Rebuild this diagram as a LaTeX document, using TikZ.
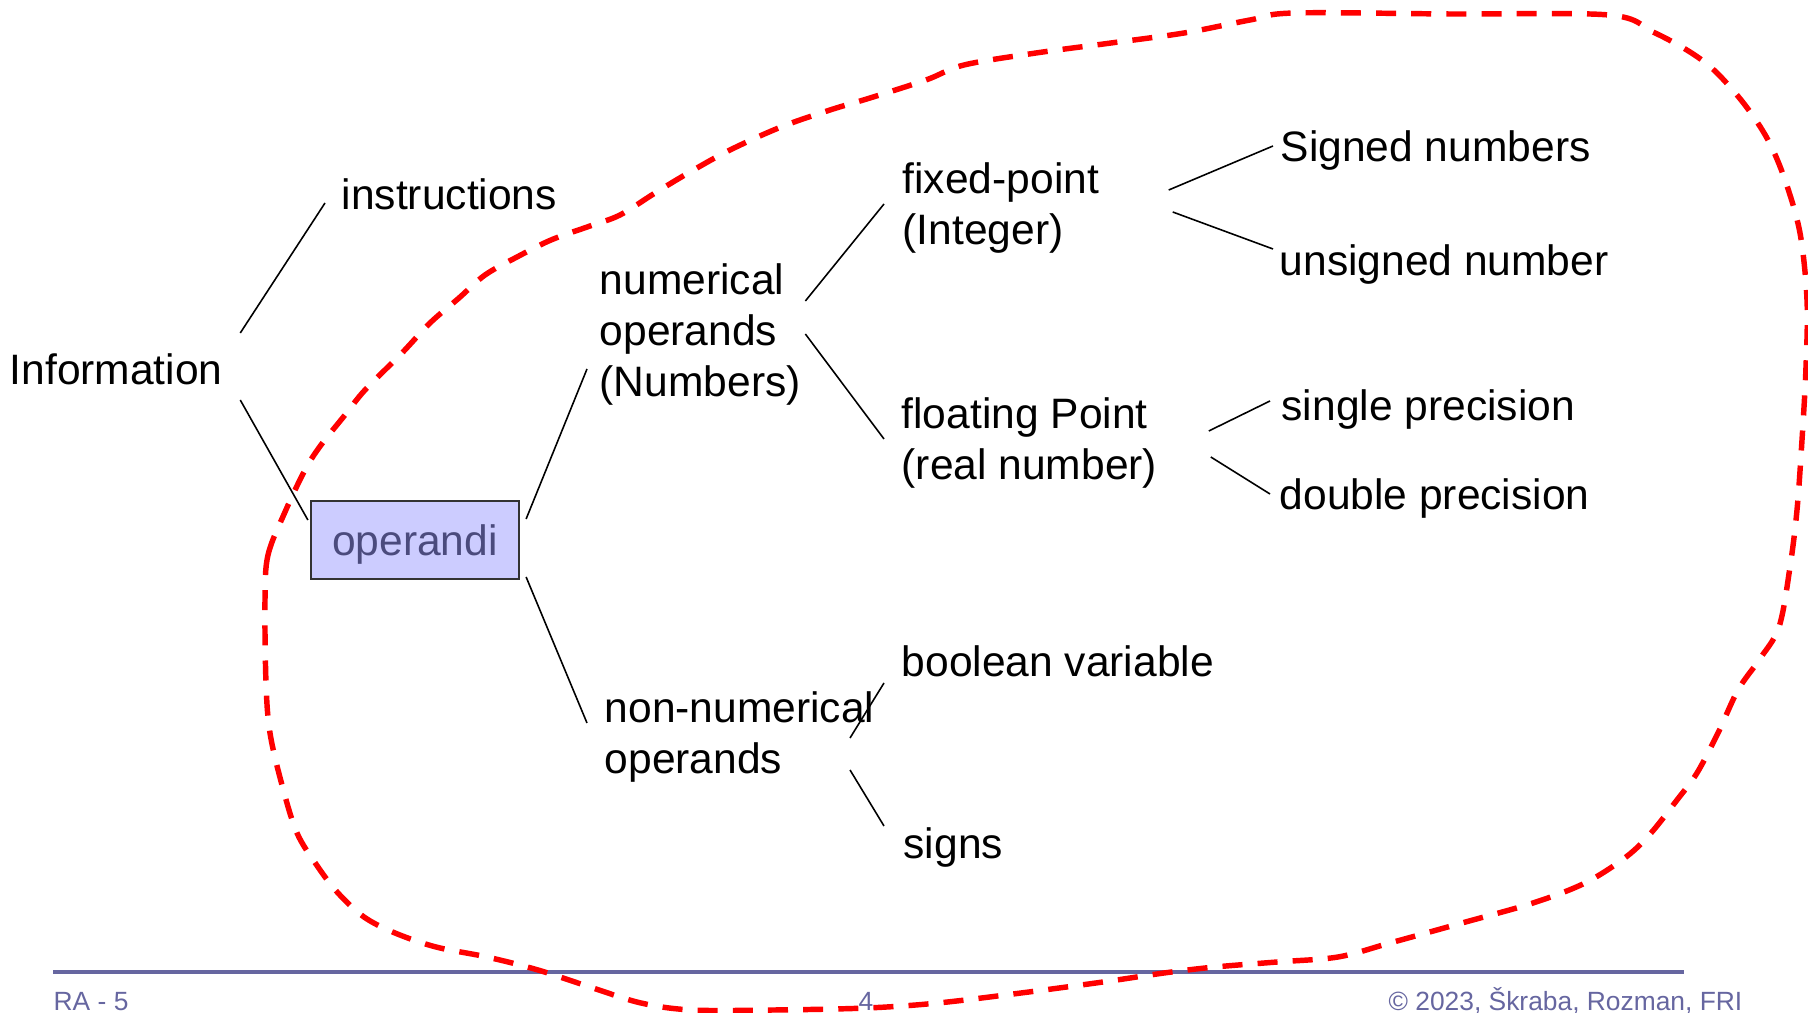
\documentclass[tikz,border=0pt]{standalone}
\usepackage{fontspec}
\setmainfont{Liberation Sans}
\usetikzlibrary{calc}
\definecolor{opfill}{HTML}{CCCCFF}
\definecolor{optext}{HTML}{4B4B7D}
\definecolor{ftslate}{HTML}{6666A0}
\definecolor{hullred}{HTML}{FF0000}
\tikzset{
  lbl/.style={inner sep=0pt,anchor=base west,align=left,font=\fontsize{12.1}{14.6}\selectfont},
  opbox/.style={draw=black!80,line width=0.6pt,fill=opfill,text=optext,minimum width=2.08cm,minimum height=0.78cm,inner sep=0pt,text height=0.31cm,text depth=0.01cm,font=\fontsize{12.1}{14.6}\selectfont},
  link/.style={line width=0.45pt,draw=black},
  foot/.style={inner sep=0pt,font=\fontsize{7.5}{9}\selectfont,text=ftslate},
  hull/.style={draw=hullred,line width=1.55pt,dash pattern=on 5.7pt off 4.3pt},
}

\begin{document}
\begin{tikzpicture}[x=0.01cm,y=-0.01cm]
  \useasboundingbox (0,0) rectangle (1808,1013);

  % tree of labels (two-line labels sit on their last baseline)
  \node[lbl] (info) at (9,385) {Information};
  \node[lbl] (instr) at (341,210) {instructions};
  \node[opbox] (op) at (415,540) {operandi};
  \node[lbl] (num) at (599,397) {numerical\\operands\\(Numbers)};
  \node[lbl] (nonnum) at (604,774) {non-numerical\\operands};
  \node[lbl] (fixed) at (902,245) {fixed-point\\(Integer)};
  \node[lbl] (float) at (901,480) {floating Point\\(real number)};
  \node[lbl] (signed) at (1280,162) {Signed numbers};
  \node[lbl] (unsigned) at (1279,276) {unsigned number};
  \node[lbl] (single) at (1281,421) {single precision};
  \node[lbl] (double) at (1279,510) {double precision};
  \node[lbl] (bool) at (901,677) {boolean variable};
  \node[lbl] (signs) at (903,859) {signs};

  \draw[link] ([shift={(17,-52)}]info.base east) -- ([shift={(-16,-7)}]instr.base west);
  \draw[link] ([shift={(17,15)}]info.base east) -- ([shift={(-2,-20)}]op.west);
  \draw[link] ([shift={(6,-21)}]op.east) -- ([shift={(-12,-28)}]num.base west);
  \draw[link] ([shift={(6,37)}]op.east) -- ([shift={(-17,-51)}]nonnum.base west);
  \draw[link] ([shift={(4,-96)}]num.base east) -- ([shift={(-18,-41)}]fixed.base west);
  \draw[link] ([shift={(4,-63)}]num.base east) -- ([shift={(-17,-41)}]float.base west);
  \draw[link] ([shift={(69,-55)}]fixed.base east) -- ([shift={(-7,-16)}]signed.base west);
  \draw[link] ([shift={(73,-33)}]fixed.base east) -- ([shift={(-6,-27)}]unsigned.base west);
  \draw[link] ([shift={(51,-49)}]float.base east) -- ([shift={(-11,-20)}]single.base west);
  \draw[link] ([shift={(53,-23)}]float.base east) -- ([shift={(-9,-16)}]double.base west);
  \draw[link] ([shift={(-25,-36)}]nonnum.base east) -- ([shift={(-17,6)}]bool.base west);
  \draw[link] ([shift={(-25,-4)}]nonnum.base east) -- ([shift={(-19,-33)}]signs.base west);

  % footer
  \draw[ftslate,line width=1pt] (53,972) -- (1684,972);
  \node[foot,anchor=base west] (ftleft) at (53,1011) {RA - 5};
  \node[foot,anchor=base] (ftpage) at (866,1011) {4};
  \node[foot,anchor=base east] (ftright) at (1743,1011) {© 2023, Škraba, Rozman, FRI};

  % dashed hull round the operands
  \draw[hull] plot[smooth cycle,tension=0.55] coordinates {
    (265,600) (268,555) (285,512) (305,470) (321,445) (345,415) (365,390)
    (402,353) (430,323) (459,298) (485,275) (517,257) (551,240) (590,226)
    (620,215) (655,193) (690,172) (730,150) (781,127) (830,110) (870,98)
    (926,80) (964,65) (1036,53) (1111,43) (1184,33) (1250,20) (1294,13)
    (1450,14) (1609,15) (1653,32) (1690,52) (1716,72) (1745,105) (1768,140)
    (1785,180) (1800,233) (1807,300) (1806,367) (1802,440) (1797,510)
    (1790,567) (1779,627) (1759,660) (1738,690) (1718,733) (1697,773)
    (1677,800) (1651,833) (1626,857) (1585,883) (1533,903) (1462,923)
    (1390,943) (1338,957) (1277,962) (1215,967) (1164,973) (1103,982)
    (1021,993) (938,1003) (867,1008) (774,1010) (692,1010) (641,1003)
    (590,987) (538,970) (487,957) (436,947) (395,933) (364,917) (338,893)
    (318,867) (297,833) (282,785) (270,733) (266,683)};
\end{tikzpicture}
\end{document}
